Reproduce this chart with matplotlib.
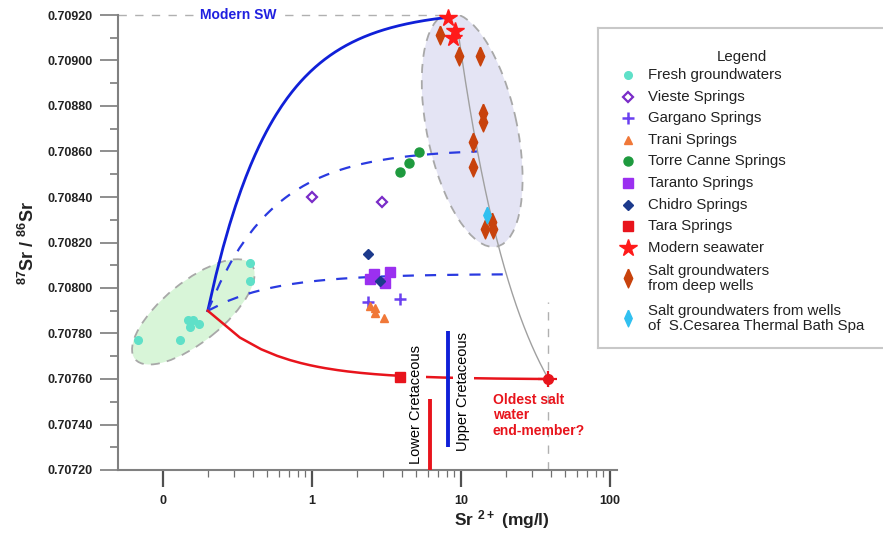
import numpy as np
import matplotlib
matplotlib.use('Agg')
import matplotlib.pyplot as plt
import matplotlib.transforms as mtransforms
from matplotlib.patches import Ellipse
from matplotlib.ticker import MultipleLocator, NullFormatter, FormatStrFormatter, FixedLocator

plt.rcParams['font.family'] = ['Liberation Sans', 'DejaVu Sans']
plt.rcParams['mathtext.fontset'] = 'custom'
plt.rcParams['mathtext.rm'] = 'Liberation Sans'
plt.rcParams['mathtext.bf'] = 'Liberation Sans:bold'

# Sr (mg/l) and 87Sr/86Sr
fresh_sr = [0.068, 0.131, 0.148, 0.160, 0.153, 0.175, 0.384, 0.384]
fresh_ratio = [0.70777, 0.70777, 0.70786, 0.70786, 0.70783, 0.70784, 0.70811, 0.70803]
vieste_sr = [1.0, 2.94]
vieste_ratio = [0.70840, 0.70838]
gargano_sr = [2.39, 3.90]
gargano_ratio = [0.70794, 0.70795]
trani_sr = [2.45, 2.66, 2.66, 3.04]
trani_ratio = [0.70792, 0.70791, 0.70789, 0.70787]
torre_sr = [3.90, 4.48, 5.25]
torre_ratio = [0.70851, 0.70855, 0.70860]
taranto_sr = [2.45, 2.62, 3.09, 3.34]
taranto_ratio = [0.70804, 0.70806, 0.70802, 0.70807]
chidro_sr = [2.39, 2.86]
chidro_ratio = [0.70815, 0.70803]
tara_sr = [3.9]
tara_ratio = [0.70761]
seawater_sr = [8.22, 9.11, 8.88]
seawater_ratio = [0.709185, 0.70913, 0.70910]
deep_sr = [7.23, 9.74, 13.3, 14.0, 14.0, 12.0, 12.1, 14.5, 16.1, 16.3]
deep_ratio = [0.70911, 0.70902, 0.70902, 0.70877, 0.70873, 0.70864, 0.70853, 0.70826, 0.70829, 0.70826]
cesarea_sr = [15.0]
cesarea_ratio = [0.70832]

# end-members (Sr, ratio)
fresh_end = (0.2, 0.7079)
modern_sw = (8.2, 0.70919)
oldest_salt = (38.5, 0.70760)
upper_mix_end = (12.75, 0.70860)
lower_mix_end = (20.3, 0.70806)
salt_trend_top = (9.55, 0.709125)

lower_cret_sr, lower_cret_range = 6.2, (0.70720, 0.70751)
upper_cret_sr, upper_cret_range = 8.2, (0.70730, 0.70781)


def mixing(a, b, n=300):
    f = np.linspace(0, 1, n)
    c = a[0] * (1 - f) + b[0] * f
    r = (a[0] * a[1] * (1 - f) + b[0] * b[1] * f) / c
    return c, r


slim_diamond = [(0, 1), (0.45, 0), (0, -1), (-0.45, 0), (0, 1)]

styles = {
    'fresh': dict(marker='o', ms=5.5, mfc='#5fe0c8', mec='#5fe0c8'),
    'vieste': dict(marker='D', ms=5, mfc='white', mec='#7a2cc8', mew=1.6),
    'gargano': dict(marker='+', ms=8, mec='#6a40f0', mew=1.8),
    'trani': dict(marker='^', ms=6, mfc='#f07838', mec='#f07838'),
    'torre': dict(marker='o', ms=6.5, mfc='#1e9a3e', mec='#1e9a3e'),
    'taranto': dict(marker='s', ms=7, mfc='#9b30f0', mec='#9b30f0'),
    'chidro': dict(marker='D', ms=5.2, mfc='#1c3a8c', mec='#1c3a8c'),
    'tara': dict(marker='s', ms=6.5, mfc='#e8141c', mec='#e8141c'),
    'sw': dict(marker='*', ms=13, mfc='#ff1a1a', mec='#ff1a1a'),
    'deep': dict(marker=slim_diamond, ms=13.5, mfc='#c8420c', mec='#c8420c'),
    'cesarea': dict(marker=slim_diamond, ms=12, mfc='#30c0f0', mec='#30c0f0'),
}

fig = plt.figure(figsize=(8.83, 5.33), dpi=100)
ax = fig.add_axes([118 / 883, 63 / 533, 499 / 883, 455 / 533])


def ellipse(xc, yc, a_px, b_px, angle, fc):
    tr = mtransforms.IdentityTransform() + mtransforms.ScaledTranslation(xc, yc, ax.transData)
    e = Ellipse((0, 0), 2 * a_px, 2 * b_px, angle=angle, transform=tr,
                facecolor=fc, edgecolor='#a8a8a8', lw=1.3, ls=(0, (5, 4)), zorder=1)
    ax.add_patch(e)


ellipse(0.16, 0.707895, 75, 30, 39, '#d8f5d8')
ellipse(11.86, 0.708694, 119, 45, 101.9, '#e4e4f4')

# guide lines
ax.plot([0.05, modern_sw[0]], [0.70920, 0.70920], color='#b0b0b0', lw=1, ls=(0, (6, 6)), zorder=2, clip_on=False)
ax.plot([oldest_salt[0], oldest_salt[0]], [0.70720, 0.70794], color='#b0b0b0', lw=1, ls=(0, (6, 6)), zorder=2)

x, y = mixing(salt_trend_top, oldest_salt)
ax.plot(x, y, color='#a0a0a0', lw=1, zorder=3)

x, y = mixing(fresh_end, modern_sw)
ax.plot(x, y, color='#1020d8', lw=2, zorder=4)
x, y = mixing(fresh_end, upper_mix_end)
ax.plot(x, y, color='#2a3ae0', lw=1.6, ls=(0, (5, 5)), zorder=4)
x, y = mixing(fresh_end, lower_mix_end)
ax.plot(x, y, color='#2a3ae0', lw=1.6, ls=(0, (5, 5)), zorder=4)
x, y = mixing(fresh_end, oldest_salt)
ax.plot(x, y, color='#e8141c', lw=1.8, zorder=4)

ax.plot([lower_cret_sr] * 2, lower_cret_range, color='#e8141c', lw=2.8, zorder=4, solid_capstyle='butt')
ax.plot([upper_cret_sr] * 2, upper_cret_range, color='#1020d8', lw=2.8, zorder=4, solid_capstyle='butt')

ax.text(4.95, 0.70749, 'Lower Cretaceous', rotation=90, ha='center', va='center', fontsize=10.5,
        bbox=dict(facecolor='white', edgecolor='none', pad=2.5), zorder=5)
ax.text(10.3, 0.707543, 'Upper Cretaceous', rotation=90, ha='center', va='center', fontsize=10.5,
        bbox=dict(facecolor='white', edgecolor='none', pad=2.5), zorder=5)

ax.errorbar(oldest_salt[0], oldest_salt[1], xerr=5.5, yerr=0.000033, fmt='o', color='#e8141c',
            ms=7, elinewidth=1.6, capsize=0, zorder=6)
ax.text(16.3, 0.70754, 'Oldest salt\nwater\nend-member?', color='#e8141c', fontsize=10,
        fontweight='bold', ha='left', va='top', linespacing=1.15, zorder=6)
ax.text(0.32, 0.70920, 'Modern SW', color='#2020e0', fontsize=10, fontweight='bold',
        ha='center', va='center', bbox=dict(facecolor='white', edgecolor='none', pad=1), zorder=6)

series = [
    ('Fresh groundwaters', fresh_sr, fresh_ratio, 'fresh'),
    ('Vieste Springs', vieste_sr, vieste_ratio, 'vieste'),
    ('Gargano Springs', gargano_sr, gargano_ratio, 'gargano'),
    ('Trani Springs', trani_sr, trani_ratio, 'trani'),
    ('Torre Canne Springs', torre_sr, torre_ratio, 'torre'),
    ('Taranto Springs', taranto_sr, taranto_ratio, 'taranto'),
    ('Chidro Springs', chidro_sr, chidro_ratio, 'chidro'),
    ('Tara Springs', tara_sr, tara_ratio, 'tara'),
    ('Modern seawater', seawater_sr, seawater_ratio, 'sw'),
    ('Salt groundwaters\nfrom deep wells', deep_sr, deep_ratio, 'deep'),
    ('Salt groundwaters from wells\nof  S.Cesarea Thermal Bath Spa', cesarea_sr, cesarea_ratio, 'cesarea'),
]
for label, xs, ys, key in series:
    ax.plot(xs, ys, ls='none', zorder=7, clip_on=False, **styles[key])

# axes
ax.set_xscale('log')
ax.set_xlim(0.05, 111)
ax.set_ylim(0.70720, 0.70920)
ax.set_xticks([0.1, 1, 10, 100])
ax.set_xticklabels(['0', '1', '10', '100'])
ax.xaxis.set_minor_locator(FixedLocator([k * 10.0 ** p for p in (-1, 0, 1) for k in range(2, 10)]))
ax.xaxis.set_minor_formatter(NullFormatter())
ax.yaxis.set_major_locator(MultipleLocator(0.0002))
ax.yaxis.set_minor_locator(MultipleLocator(0.0001))
ax.yaxis.set_major_formatter(FormatStrFormatter('%.5f'))
ax.tick_params(axis='x', which='major', length=12, width=1.6, color='#505050', pad=6, labelsize=9)
ax.tick_params(axis='x', which='minor', length=5, width=0.9, color='#707070')
ax.tick_params(axis='y', which='major', length=13, width=1.1, color='#707070', pad=5, labelsize=9)
ax.tick_params(axis='y', which='minor', length=6, width=1.1, color='#707070')
for lbl in ax.get_xticklabels() + ax.get_yticklabels():
    lbl.set_fontweight('bold')
    lbl.set_color('#222222')
for s in ['top', 'right']:
    ax.spines[s].set_visible(False)
for s in ['left', 'bottom']:
    ax.spines[s].set_color('#808080')
    ax.spines[s].set_linewidth(1.5)

ax.set_ylabel(r'$\mathbf{^{87}}$Sr / $\mathbf{^{86}}$Sr', fontsize=13, fontweight='bold', color='#222222')
ax.yaxis.set_label_coords(-0.16, 0.5)
ax.set_xlabel(r'Sr $\mathbf{^{2+}}$ (mg/l)', fontsize=12.5, fontweight='bold', color='#222222')
ax.xaxis.set_label_coords(0.77, -0.084)

# legend box
lax = fig.add_axes([598 / 883, 185 / 533, 300 / 883, 320 / 533])
lax.set_xlim(598, 898)
lax.set_ylim(348, 28)
lax.set_xticks([])
lax.set_yticks([])
for s in lax.spines.values():
    s.set_color('#c8c8c8')
    s.set_linewidth(1.5)
lax.text(742, 57, 'Legend', ha='center', va='center', fontsize=10.8, color='#222222')
ypos = 75
for i, (label, xs, ys, key) in enumerate(series):
    n = label.count('\n') + 1
    if i > 0:
        ypos += (prev_n + n) * 18.2 / 2 + 3.4
    lax.plot([628], [ypos], ls='none', clip_on=False, **styles[key])
    lax.text(648, ypos, label, ha='left', va='center', fontsize=10.8, color='#222222', linespacing=1.05)
    prev_n = n

fig.savefig('out.png', dpi=100)
